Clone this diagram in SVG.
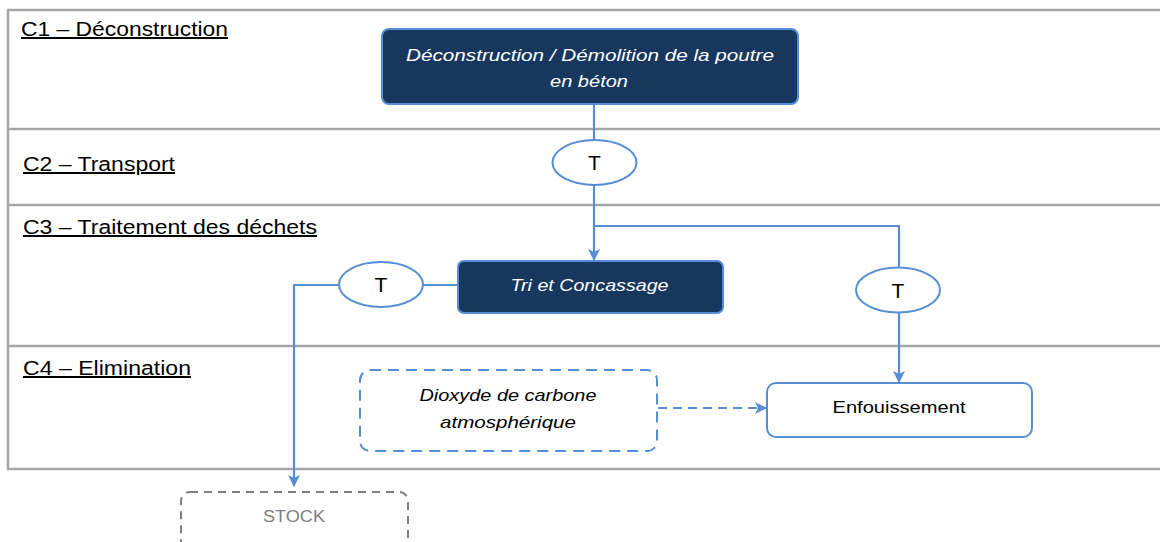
<svg xmlns="http://www.w3.org/2000/svg" width="1160" height="542" viewBox="0 0 1160 542">
<style>
.lane{fill:none;stroke:#a6a6a6;stroke-width:2.5}
.lbl{font-family:"Liberation Sans",Arial,sans-serif;font-size:20px;fill:#000;text-decoration:underline}
.dark{fill:#17375e;stroke:#558ed5;stroke-width:2}
.wt{font-family:"Liberation Sans",Arial,sans-serif;font-size:17px;font-style:italic;fill:#fff;text-anchor:middle}
.bt{font-family:"Liberation Sans",Arial,sans-serif;font-size:17px;fill:#000;text-anchor:middle}
.tt{font-family:"Liberation Sans",Arial,sans-serif;font-size:21px;fill:#000;text-anchor:middle}
.it{font-family:"Liberation Sans",Arial,sans-serif;font-size:17px;font-style:italic;fill:#000;text-anchor:middle}
.ell{fill:#fff;stroke:#558ed5;stroke-width:2}
.con{fill:none;stroke:#558ed5;stroke-width:2.2}
</style>
<defs>
<marker id="arr" viewBox="0 0 12 12" refX="11" refY="6" markerWidth="12" markerHeight="12" markerUnits="userSpaceOnUse" orient="auto">
<path d="M0,0 L12,6 L0,12 L3,6 z" fill="#558ed5"/>
</marker>
</defs>
<rect width="1160" height="542" fill="#fff"/>
<g id="lanes">
<path class="lane" d="M1162,10 H8 V469 H1162 M8,129 H1162 M8,205 H1162 M8,346 H1162"/>
<text class="lbl" x="21" y="36" textLength="207" lengthAdjust="spacingAndGlyphs">C1 – Déconstruction</text>
<text class="lbl" x="23" y="171" textLength="152" lengthAdjust="spacingAndGlyphs">C2 – Transport</text>
<text class="lbl" x="23" y="234" textLength="294" lengthAdjust="spacingAndGlyphs">C3 – Traitement des déchets</text>
<text class="lbl" x="23" y="375" textLength="168" lengthAdjust="spacingAndGlyphs">C4 – Elimination</text>
</g>
<g id="connectors">
<path class="con" d="M594,104 V140"/>
<path class="con" d="M594,185 V226 H899 V268"/>
<path class="con" d="M594,226 V260" marker-end="url(#arr)"/>
<path class="con" d="M899,312 V382" marker-end="url(#arr)"/>
<path class="con" d="M458,285 H423"/>
<path class="con" d="M339,285 H294 V486" marker-end="url(#arr)"/>
<path class="con" d="M658,408 H766" stroke-dasharray="9,6" marker-end="url(#arr)"/>
</g>
<g id="n_deconstruction">
<rect class="dark" x="382" y="29" width="416" height="75" rx="7"/>
<text class="wt" x="590" y="61" textLength="368" lengthAdjust="spacingAndGlyphs">Déconstruction / Démolition de la poutre</text>
<text class="wt" x="589" y="87" textLength="78" lengthAdjust="spacingAndGlyphs">en béton</text>
</g>
<g id="n_t1">
<ellipse class="ell" cx="594.5" cy="162.5" rx="42" ry="22.5"/>
<text class="tt" x="594.5" y="170">T</text>
</g>
<g id="n_tri">
<rect class="dark" x="458" y="261" width="265" height="52" rx="6"/>
<text class="wt" x="589.5" y="291" textLength="158" lengthAdjust="spacingAndGlyphs">Tri et Concassage</text>
</g>
<g id="n_t2">
<ellipse class="ell" cx="381" cy="284.5" rx="42" ry="22.5"/>
<text class="tt" x="381" y="292">T</text>
</g>
<g id="n_t3">
<ellipse class="ell" cx="898" cy="290" rx="42" ry="22.5"/>
<text class="tt" x="898" y="298">T</text>
</g>
<g id="n_enfouissement">
<rect x="767" y="383" width="265" height="54" rx="9" fill="#fff" stroke="#558ed5" stroke-width="2"/>
<text class="bt" x="899" y="413" textLength="133" lengthAdjust="spacingAndGlyphs">Enfouissement</text>
</g>
<g id="n_dioxyde">
<rect x="360" y="370" width="297" height="81" rx="10" fill="#fff" stroke="#558ed5" stroke-width="2" stroke-dasharray="11,7"/>
<text class="it" x="508" y="401" textLength="177" lengthAdjust="spacingAndGlyphs">Dioxyde de carbone</text>
<text class="it" x="508" y="428" textLength="136" lengthAdjust="spacingAndGlyphs">atmosphérique</text>
</g>
<g id="n_stock">
<rect x="181" y="492" width="227" height="70" rx="9" fill="#fff" stroke="#808080" stroke-width="2" stroke-dasharray="8,6"/>
<text x="294" y="522" text-anchor="middle" font-family="Liberation Sans, Arial, sans-serif" font-size="16" fill="#808080" textLength="62" lengthAdjust="spacingAndGlyphs">STOCK</text>
</g>
</svg>
